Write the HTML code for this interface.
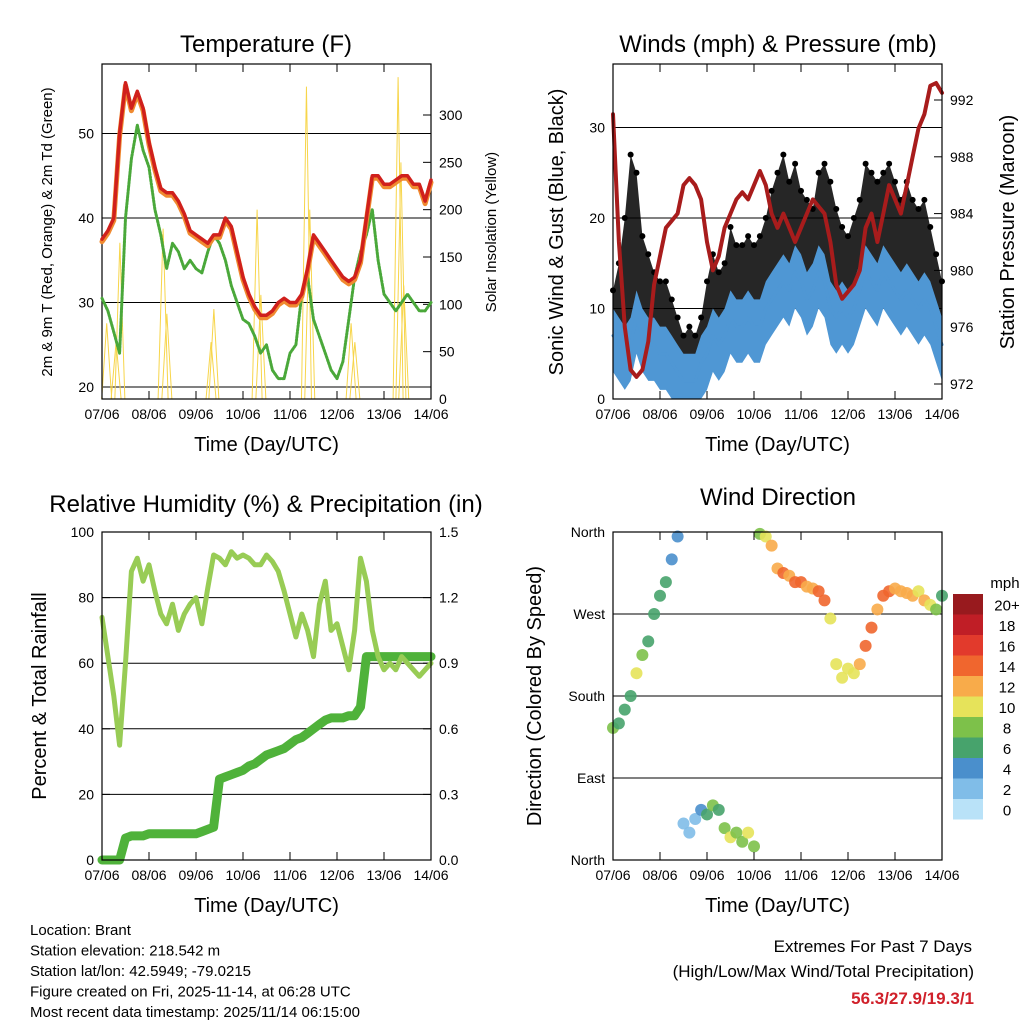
<!DOCTYPE html>
<html><head><meta charset="utf-8"><style>
html,body{margin:0;padding:0;background:#fff}
svg{display:block;font-family:"Liberation Sans",Arial,sans-serif}
</style></head><body>
<svg id="c" width="1024" height="1024" viewBox="0 0 1024 1024" xmlns="http://www.w3.org/2000/svg"></svg>
<script>
// ---- data (3-hourly samples, day 0..7) ----
const xTicks = ['07/06','08/06','09/06','10/06','11/06','12/06','13/06','14/06'];
const tempT = [37.5,38.5,40,50,56,53,55,53,49,46,43.5,43,43,42,40.5,38.5,38,37.5,37,38,38,40,39,36,33,31,29.5,28.5,28.5,29,30,30.5,30,30,31,34,38,37,36,35,34,33,32.5,33,35,40,45,45,44,44,44.5,45,45,44,44,42,44.5];
const tempTd = [30.5,29,26.5,24,40,47,51,48,46,41,38,34,37,36,34,35,34,33.5,36,38,37,35,32,30,28,27.5,26,24,25,22,21,21,24,25,31,33,28,26,24,22,21,23,28,33,36,38,41,35,31,30,29,30,31,30,29,29,30];
const solarDay = [0.1,0.3,0.38,1.3,1.38,2.32,2.38,3.3,3.38,4.35,4.42,5.3,5.38,6.3,6.36,6.42];
const solarPeak = [80,60,165,180,90,60,95,200,110,330,200,80,60,340,250,120];
const windMean = [7,6,5,6,9,7,6,6,5,5,4,3,2,2,2,4,5,7,6,7,9,8,8,9,8,8,10,11,12,13,12,14,13,11,12,14,13,10,9,10,9,10,12,14,13,12,14,13,12,11,12,11,10,11,10,8,6];
const windGust = [12,15,20,27,25,18,16,14,13,13,11,9,7,8,7,9,13,16,14,15,19,17,17,18,17,18,20,23,25,27,24,26,23,22,21,25,26,24,21,19,18,20,22,26,25,24,25,26,24,22,24,22,21,22,19,16,13];
const pressure = [991,982,976,973,972.5,973,975,979,981,983,983.5,984,986,986.5,986,985,982,980,981,983,984,985,985.5,985,986,987,986,984,983,984,983,982,983,984,985,984.5,984,982,979,978,978.5,979,980,983,984,982,984,986,985,984,986,988,990,991,993,993.2,992.5];
const rh = [74,62,50,35,60,88,92,85,90,82,75,72,78,70,75,78,80,72,83,93,92,90,94,92,93,92,90,90,93,91,88,82,75,68,75,70,62,78,85,70,72,65,58,70,92,85,70,62,58,60,58,62,60,58,56,58,60];
const precip = [0,0,0,0,0.1,0.11,0.11,0.11,0.12,0.12,0.12,0.12,0.12,0.12,0.12,0.12,0.12,0.13,0.14,0.15,0.37,0.38,0.39,0.40,0.41,0.43,0.44,0.46,0.48,0.49,0.50,0.51,0.53,0.55,0.56,0.58,0.60,0.62,0.64,0.65,0.65,0.65,0.66,0.66,0.70,0.93,0.93,0.93,0.93,0.93,0.93,0.93,0.93,0.93,0.93,0.93,0.93];
const windDir = [145,150,165,180,205,225,240,270,290,305,330,355,40,30,45,55,50,60,55,35,25,30,20,30,15,358,355,345,320,315,312,305,305,300,298,295,285,265,215,200,210,205,215,235,255,275,290,295,298,295,293,290,295,285,280,275,290];
const cbLabels = ['0','2','4','6','8','10','12','14','16','18','20+'];
const cbColors = ['#b9e2f8','#80bde8','#4a8fcc','#47a36c','#7dc14a','#e6e35a','#f8ab4a','#f0662e','#e23a2c','#c01e26','#981a1e'];

const NS='http://www.w3.org/2000/svg';
const svg=document.getElementById('c');
function mk(tag,attrs,name,parent){
  const el=document.createElementNS(NS,tag);
  for(const k in attrs) el.setAttribute(k,attrs[k]);
  
  
  (parent||svg).appendChild(el);
  return el;
}
function txt(x,y,s,size,name,opts){
  opts=opts||{};
  const a={x:x,y:y,'font-size':size,'text-anchor':opts.anchor||'middle',fill:opts.fill||'#000'};
  if(opts.rot) a.transform='rotate(-90 '+x+' '+y+')';
  if(opts.bold) a['font-weight']='bold';
  const t=mk('text',a,name);
  t.textContent=s;
  return t;
}
function lin(d0,d1,p0,p1){return v=>p0+(v-d0)/(d1-d0)*(p1-p0);}
const dayOf=i=>i/8;

function panelFrame(L,R,T,B,name){
  mk('rect',{x:L,y:T,width:R-L,height:B-T,fill:'none',stroke:'#000','stroke-width':1.2},name+'-frame');
  const X=lin(0,7,L,R);
  xTicks.forEach((s,i)=>{
    const x=X(i);
    mk('line',{x1:x,y1:B,x2:x,y2:B-8,stroke:'#000'},name+'-xtick');
    mk('line',{x1:x,y1:T,x2:x,y2:T+8,stroke:'#000'},name+'-xtick-top');
    txt(x,B+20,s,14,name+'-xtick-label');
  });
  txt((L+R)/2,B+52,'Time (Day/UTC)',20,name+'-x-title');
  return X;
}
function yAxis(L,R,ticks,Y,name,side,labels,grid){
  ticks.forEach((v,i)=>{
    const y=Y(v);
    if(grid) mk('line',{x1:L,y1:y,x2:R,y2:y,stroke:'#000','stroke-width':1},name+'-gridline');
    if(side==='left'){
      mk('line',{x1:L,y1:y,x2:L+8,y2:y,stroke:'#000'},name+'-ytick');
      txt(L-8,y+5,labels?labels[i]:String(v),14,name+'-ytick-label',{anchor:'end'});
    }else{
      mk('line',{x1:R,y1:y,x2:R-8,y2:y,stroke:'#000'},name+'-ytick');
      txt(R+8,y+5,labels?labels[i]:String(v),14,name+'-ytick-label',{anchor:'start'});
    }
  });
}
function poly(X,Y,arr,name,stroke,w){
  const pts=arr.map((v,i)=>X(dayOf(i)).toFixed(1)+','+Y(v).toFixed(1)).join(' ');
  return mk('polyline',{points:pts,fill:'none',stroke:stroke,'stroke-width':w,'stroke-linejoin':'round','stroke-linecap':'round'},name);
}

// ---------- Panel 1: Temperature ----------
(function(){
  const L=102,R=431,T=64,B=399;
  txt(266,52,'Temperature (F)',24,'temperature-title');
  const Y=lin(20,30,387,302.5);
  const Ys=lin(0,300,399,115);
  yAxis(L,R,[20,30,40,50],Y,'temp-left','left',null,true);
  yAxis(L,R,[0,50,100,150,200,250,300],Ys,'solar-right','right',null,false);
  solarDay.forEach((d,i)=>{
    const x0=lin(0,7,L,R)(d);
    mk('polyline',{points:(x0-5)+','+B+' '+x0+','+Ys(solarPeak[i])+' '+(x0+5)+','+B,fill:'none',stroke:'#f7d54a','stroke-width':1},'solar-spike');
  });
  const X=panelFrame(L,R,T,B,'temp');
  poly(X,Y,tempTd,'dewpoint-line','#4aa83a',3).setAttribute('stroke-dasharray','2 1.5');
  poly(X,Y,tempT.map(v=>v-0.3),'temp-9m-line','#f08a30',5);
  poly(X,Y,tempT,'temp-2m-line','#d0201c',3.5);
  txt(52,232,'2m & 9m T (Red, Orange) & 2m Td (Green)',15,'temp-y-title',{rot:true});
  txt(496,232,'Solar Insolation (Yellow)',15,'solar-y-title',{rot:true});
})();

// ---------- Panel 2: Winds & Pressure ----------
(function(){
  const L=613,R=942,T=64,B=399;
  txt(778,52,'Winds (mph) & Pressure (mb)',24,'winds-title');
  const Y=lin(0,10,399,308.5);
  const Yp=lin(972,992,384,100);
  yAxis(L,R,[0,10,20,30],Y,'wind-left','left',null,true);
  yAxis(L,R,[972,976,980,984,988,992],Yp,'pressure-right','right',null,false);
  const X=lin(0,7,L,R);
  const top=windGust.map((v,i)=>X(dayOf(i)).toFixed(1)+','+Y(v).toFixed(1));
  const bot=windMean.map((v,i)=>X(dayOf(i)).toFixed(1)+','+Y(v+1).toFixed(1)).reverse();
  mk('polygon',{points:top.concat(bot).join(' '),fill:'#000','fill-opacity':0.85},'gust-band');
  windGust.forEach((v,i)=>{
    mk('circle',{cx:X(dayOf(i)),cy:Y(v),r:3,fill:'#000'},'gust-point');
  });
  const lowB=windMean.map((v,i)=>X(dayOf(i)).toFixed(1)+','+Y(Math.max(0,v-4)).toFixed(1));
  const hiB=windMean.map((v,i)=>X(dayOf(i)).toFixed(1)+','+Y(v+3).toFixed(1)).reverse();
  mk('polygon',{points:lowB.concat(hiB).join(' '),fill:'#4f97d4'},'wind-mean-band');
  poly(X,Y,windMean,'wind-mean-line','#4f97d4',3);
  poly(X,Yp,pressure,'pressure-line','#a81c1c',4);
  panelFrame(L,R,T,B,'wind');
  txt(563,232,'Sonic Wind & Gust (Blue, Black)',20,'wind-y-title',{rot:true});
  txt(1014,232,'Station Pressure (Maroon)',20,'pressure-y-title',{rot:true});
})();

// ---------- Panel 3: RH & Precip ----------
(function(){
  const L=102,R=431,T=532,B=860;
  txt(266,512,'Relative Humidity (%) & Precipitation (in)',24,'rh-title');
  const Y=lin(0,100,860,532);
  const Yp=lin(0,1.5,860,532);
  yAxis(L,R,[0,20,40,60,80,100],Y,'rh-left','left',null,false);
  [20,40,60,80].forEach(v=>mk('line',{x1:L,y1:Y(v),x2:R,y2:Y(v),stroke:'#000'},'rh-gridline'));
  yAxis(L,R,[0,0.3,0.6,0.9,1.2,1.5],Yp,'precip-right','right',['0.0','0.3','0.6','0.9','1.2','1.5'],false);
  const X=lin(0,7,L,R);
  poly(X,Yp,precip,'precip-line','#4fb23a',9);
  poly(X,Y,rh,'rh-line','#98cc55',5);
  panelFrame(L,R,T,B,'rh');
  txt(46,696,'Percent & Total Rainfall',20,'rh-y-title',{rot:true});
})();

// ---------- Panel 4: Wind Direction ----------
(function(){
  const L=613,R=942,T=532,B=860;
  txt(778,505,'Wind Direction',24,'direction-title');
  const Y=lin(0,360,860,532);
  yAxis(L,R,[0,90,180,270,360],Y,'dir-left','left',['North','East','South','West','North'],false);
  [90,180,270].forEach(v=>mk('line',{x1:L,y1:Y(v),x2:R,y2:Y(v),stroke:'#000'},'dir-gridline'));
  const X=lin(0,7,L,R);
  windDir.forEach((d,i)=>{
    const ci=Math.min(10,Math.max(0,Math.round(windMean[i]/2)));
    mk('circle',{cx:X(dayOf(i)),cy:Y(d),r:6,fill:cbColors[ci],'fill-opacity':0.9},'direction-point');
  });
  panelFrame(L,R,T,B,'dir');
  txt(541,696,'Direction (Colored By Speed)',20,'dir-y-title',{rot:true});
  const cbT=594,cbH=20.5;
  cbColors.forEach((c,i)=>{
    const y=cbT+(10-i)*cbH;
    mk('rect',{x:953,y:y,width:30,height:cbH,fill:c},'colorbar-swatch');
    txt(1007,y+cbH/2+6,cbLabels[i],15,'colorbar-label',{anchor:'middle'});
  });
  txt(1005,588,'mph',15,'colorbar-title');
})();

// ---------- footer text ----------
const info=['Location: Brant','Station elevation: 218.542 m','Station lat/lon: 42.5949; -79.0215','Figure created on Fri, 2025-11-14, at 06:28 UTC','Most recent data timestamp: 2025/11/14 06:15:00'];
info.forEach((s,i)=>txt(30,935+i*20.5,s,15,'station-info-line',{anchor:'start'}));
txt(972,952,'Extremes For Past 7 Days',17,'extremes-title',{anchor:'end'});
txt(974,977,'(High/Low/Max Wind/Total Precipitation)',17,'extremes-subtitle',{anchor:'end'});
txt(974,1004,'56.3/27.9/19.3/1',17,'extremes-values',{anchor:'end',fill:'#d0202a',bold:true});
</script>
</body></html>
